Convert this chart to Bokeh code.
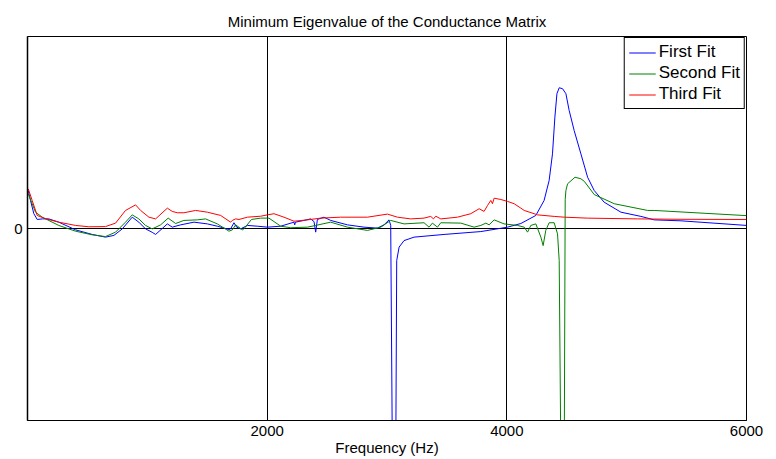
from bokeh.plotting import figure
from bokeh.models import FixedTicker, Range1d
from bokeh.embed import file_html
from bokeh.resources import INLINE

freq_first = [6, 25, 53, 81, 123, 178, 261, 401, 540, 651, 721, 791, 874, 929, 985, 1041, 1069, 1167, 1208, 1278,
              1389, 1501, 1584, 1681, 1695, 1723, 1745, 1779, 1835, 1918, 2002, 2113, 2224, 2230, 2236, 2307, 2363,
              2391, 2405, 2419, 2474, 2530, 2670, 2808, 2920, 2975, 3017, 3031, 3045, 3073, 3081, 3101, 3142, 3226,
              3476, 3783, 4006, 4117, 4242, 4311, 4353, 4381, 4401, 4418, 4437, 4465, 4493, 4520, 4562, 4618, 4674,
              4729, 4812, 4952, 5119, 5230, 5453, 6000]
first_fit = [0.198, 0.146, 0.077, 0.047, 0.050, 0.050, 0.033, -0.007, -0.031, -0.045, -0.036, -0.002, 0.059, 0.033,
             -0.002, -0.020, -0.031, 0.024, 0.007, 0.019, 0.033, 0.024, 0.012, -0.005, -0.002, 0.030, 0.007, -0.002,
             0.016, 0.012, 0.007, 0.012, 0.033, 0.019, 0.033, 0.042, 0.050, 0.036, -0.019, 0.047, 0.059, 0.042, 0.019,
             0.007, 0.002, 0.019, 0.045, 0.016, -1.2, -1.2, -0.167, -0.097, -0.063, -0.045, -0.031, -0.016, 0.007,
             0.026, 0.068, 0.146, 0.25, 0.389, 0.580, 0.702, 0.733, 0.728, 0.702, 0.615, 0.510, 0.389, 0.267, 0.198,
             0.137, 0.085, 0.063, 0.045, 0.040, 0.016]

freq_second = [6, 39, 67, 123, 261, 401, 540, 651, 735, 818, 874, 929, 985, 1041, 1111, 1174, 1236, 1305, 1417, 1486,
               1584, 1681, 1709, 1737, 1793, 1806, 1869, 1946, 2015, 2113, 2196, 2336, 2405, 2530, 2670, 2837, 2948,
               3031, 3142, 3309, 3351, 3379, 3421, 3449, 3616, 3727, 3783, 3825, 3852, 3894, 3977, 4089, 4145, 4173,
               4200, 4242, 4284, 4303, 4325, 4353, 4395, 4423, 4437, 4451, 4479, 4487, 4493, 4507, 4569, 4618, 4646,
               4729, 4896, 5175, 5230, 6000]
second_fit = [0.181, 0.129, 0.085, 0.059, 0.016, -0.014, -0.033, -0.042, -0.019, 0.033, 0.071, 0.050, 0.016, -0.002,
              0.019, 0.054, 0.026, 0.042, 0.045, 0.050, 0.024, -0.014, -0.007, 0.019, -0.007, -0.002, 0.047, 0.054,
              0.054, 0.012, 0.004, 0.007, 0.016, 0.033, 0.007, -0.010, 0.007, 0.042, 0.024, 0.030, 0.007, 0.028, 0.007,
              0.030, 0.028, 0.007, 0.016, 0.028, 0.019, 0.045, 0.024, 0.016, 0.007, -0.019, 0.016, 0.024, -0.045,
              -0.089, -0.010, 0.030, 0.030, -0.028, -0.167, -1.2, -1.2, 0.15, 0.198, 0.233, 0.267, 0.259, 0.246, 0.177,
              0.129, 0.094, 0.094, 0.067]

freq_third = [6, 39, 81, 150, 261, 401, 512, 651, 735, 818, 902, 944, 1013, 1069, 1167, 1208, 1250, 1305, 1403, 1501,
              1612, 1695, 1709, 1737, 1765, 1835, 1946, 2002, 2057, 2140, 2224, 2336, 2447, 2614, 2837, 3004, 3087,
              3198, 3309, 3365, 3388, 3407, 3449, 3588, 3699, 3769, 3810, 3839, 3866, 3880, 3894, 3950, 4006, 4061,
              4117, 4145, 4228, 4256, 4395, 4479, 4674, 5091, 5453, 6000]
third_fit = [0.207, 0.146, 0.068, 0.051, 0.033, 0.016, 0.009, 0.010, 0.028, 0.094, 0.123, 0.094, 0.059, 0.050, 0.106,
             0.089, 0.082, 0.082, 0.094, 0.085, 0.068, 0.033, 0.042, 0.050, 0.047, 0.059, 0.064, 0.071, 0.077, 0.059,
             0.038, 0.045, 0.054, 0.059, 0.059, 0.075, 0.059, 0.050, 0.054, 0.063, 0.050, 0.064, 0.050, 0.059, 0.077,
             0.103, 0.089, 0.120, 0.146, 0.129, 0.158, 0.151, 0.141, 0.129, 0.106, 0.094, 0.077, 0.071, 0.063, 0.059,
             0.054, 0.050, 0.048, 0.047]

x_ticks = [2000, 4000, 6000]
y_ticks = [0]
series_names = ["First Fit", "Second Fit", "Third Fit"]
series_colors = ["#0000ff", "#008000", "#ff0000"]

FONT = "Liberation Sans"

p = figure(width=776, height=459, output_backend="svg", toolbar_location=None,
           x_range=Range1d(0, 6000), y_range=Range1d(-1, 1),
           min_border_left=27, min_border_right=30, min_border_top=36, min_border_bottom=39,
           title="Minimum Eigenvalue of the Conductance Matrix")

p.title.align = "center"
p.title.text_font = FONT
p.title.text_font_size = "15px"
p.title.text_font_style = "normal"
p.title.text_color = "black"
p.title.standoff = 13

p.background_fill_color = "white"
p.border_fill_color = "white"
p.outline_line_color = "black"
p.outline_line_width = 1
p.outline_line_alpha = 1

p.xaxis.ticker = FixedTicker(ticks=x_ticks)
p.yaxis.ticker = FixedTicker(ticks=y_ticks)
for ax in (p.xaxis, p.yaxis):
    ax.axis_line_color = "black"
    ax.axis_line_width = 1
    ax.major_tick_in = 5
    ax.major_tick_out = 0
    ax.minor_tick_line_color = None
    ax.major_tick_line_color = "black"
    ax.major_label_text_font = FONT
    ax.major_label_text_font_size = "15px"
    ax.major_label_text_color = "black"
p.yaxis.axis_line_width = 1.5
p.xaxis.major_label_standoff = 5
p.yaxis.major_label_standoff = 5
p.xaxis.axis_label = "Frequency (Hz)"
p.xaxis.axis_label_text_font = FONT
p.xaxis.axis_label_text_font_size = "15px"
p.xaxis.axis_label_text_font_style = "normal"
p.xaxis.axis_label_text_color = "black"
p.xaxis.axis_label_standoff = 0

p.xgrid.ticker = FixedTicker(ticks=[2000, 4000])
p.ygrid.ticker = FixedTicker(ticks=[0])
for g in (p.xgrid, p.ygrid):
    g.grid_line_color = "black"
    g.grid_line_alpha = 1
    g.grid_line_width = 1

data = [(freq_first, first_fit), (freq_second, second_fit), (freq_third, third_fit)]
for (fx, fy), name, col in zip(data, series_names, series_colors):
    p.line(fx, fy, line_color=col, line_width=1, legend_label=name)

lg = p.legend[0]
lg.location = "top_right"
lg.border_line_color = "black"
lg.border_line_width = 1
lg.border_line_alpha = 1
lg.background_fill_color = "white"
lg.background_fill_alpha = 1
lg.label_text_font = FONT
lg.label_text_font_size = "17px"
lg.label_text_color = "black"
lg.glyph_width = 27
lg.glyph_height = 19
lg.label_height = 19
lg.label_standoff = 3
lg.spacing = 1
lg.padding = 4
lg.margin = 1

open("out.html", "w").write(file_html(p, INLINE))
